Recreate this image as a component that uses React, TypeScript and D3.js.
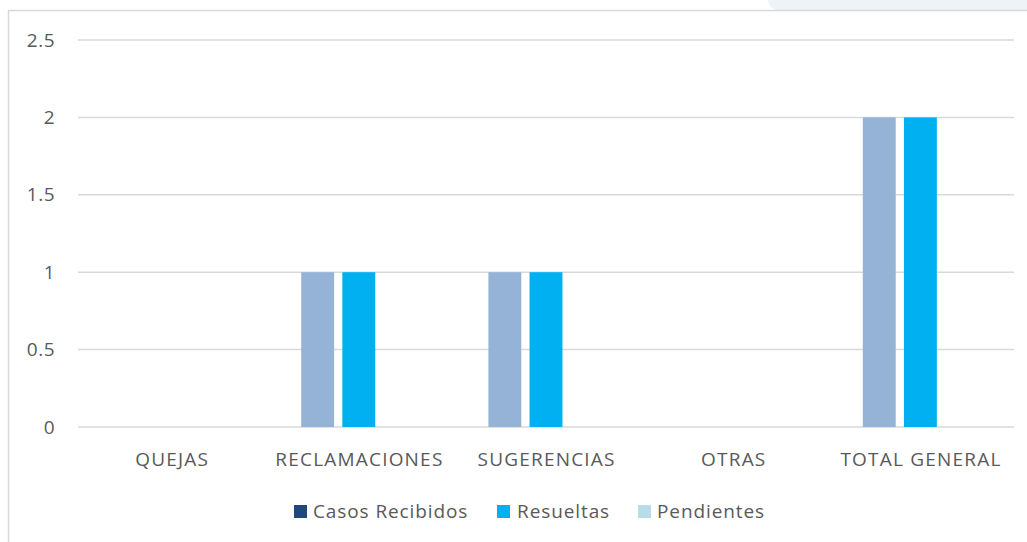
import React from "react";
import * as d3 from "d3";

const categories = ["QUEJAS", "RECLAMACIONES", "SUGERENCIAS", "OTRAS", "TOTAL GENERAL"];
const seriesNames = ["Casos Recibidos", "Resueltas", "Pendientes"];
const casosRecibidos = [0, 1, 1, 0, 2];
const resueltas = [0, 1, 1, 0, 2];
const pendientes = [0, 0, 0, 0, 0];
const yTicks = [0, 0.5, 1, 1.5, 2, 2.5];
const barColors = ["#95B3D7", "#00B0F0", "#B7DEE8"];
const legendColors = ["#1F497D", "#00B0F0", "#B7DEE8"];

const W = 1027;
const H = 542;
const FONT = "'Open Sans', sans-serif";
const FS = 19;

export default function App() {
  const series = [casosRecibidos, resueltas, pendientes];
  const x = d3.scaleBand<string>().domain(categories).range([78, 1014]);
  const inner = d3.scaleBand<string>().domain(seriesNames).range([36, x.bandwidth() - 36]).paddingInner(0.2);
  const y = d3.scaleLinear().domain([0, 2.5]).range([427, 40]);

  const legendItems = [
    { name: seriesNames[0], sx: 294, tx: 313 },
    { name: seriesNames[1], sx: 497, tx: 517 },
    { name: seriesNames[2], sx: 638, tx: 657 },
  ];

  return (
    <svg width={W} height={H} style={{ position: "absolute", left: 0, top: 0, background: "#fff" }}>
      <path d="M768,0 L1027,0 L1027,10 L776,10 Q768,6 768,0 Z" fill="#EEF3F7" />
      <rect x={8.5} y={10.5} width={1030} height={540} fill="#fff" stroke="#D9D9D9" strokeWidth={1.5} />
      {yTicks.map((t) => (
        <g key={t}>
          <line x1={78} x2={1014} y1={y(t)} y2={y(t)} stroke="#D9D9D9" strokeWidth={1.5} />
          <text x={55} y={y(t)} dy="0.35em" textAnchor="end" fontFamily={FONT} fontSize={FS} letterSpacing={0.5} fill="#595959">
            {String(t)}
          </text>
        </g>
      ))}
      {categories.map((c, i) => (
        <g key={c} transform={`translate(${x(c)},0)`}>
          {series.map((s, j) =>
            s[i] > 0 ? (
              <rect
                key={j}
                x={inner(seriesNames[j])}
                width={inner.bandwidth()}
                y={y(s[i])}
                height={y(0) - y(s[i])}
                fill={barColors[j]}
              />
            ) : null
          )}
          <text
            x={x.bandwidth() / 2 + 0.6}
            y={459}
            dy="0.35em"
            textAnchor="middle"
            fontFamily={FONT}
            fontSize={FS}
            letterSpacing={1.2}
            fill="#595959"
          >
            {c}
          </text>
        </g>
      ))}
      {legendItems.map((l, i) => (
        <g key={l.name}>
          <rect x={l.sx} y={505} width={13} height={13} fill={legendColors[i]} />
          <text x={l.tx} y={511} dy="0.35em" fontFamily={FONT} fontSize={FS} letterSpacing={0.9} fill="#595959">
            {l.name}
          </text>
        </g>
      ))}
    </svg>
  );
}
